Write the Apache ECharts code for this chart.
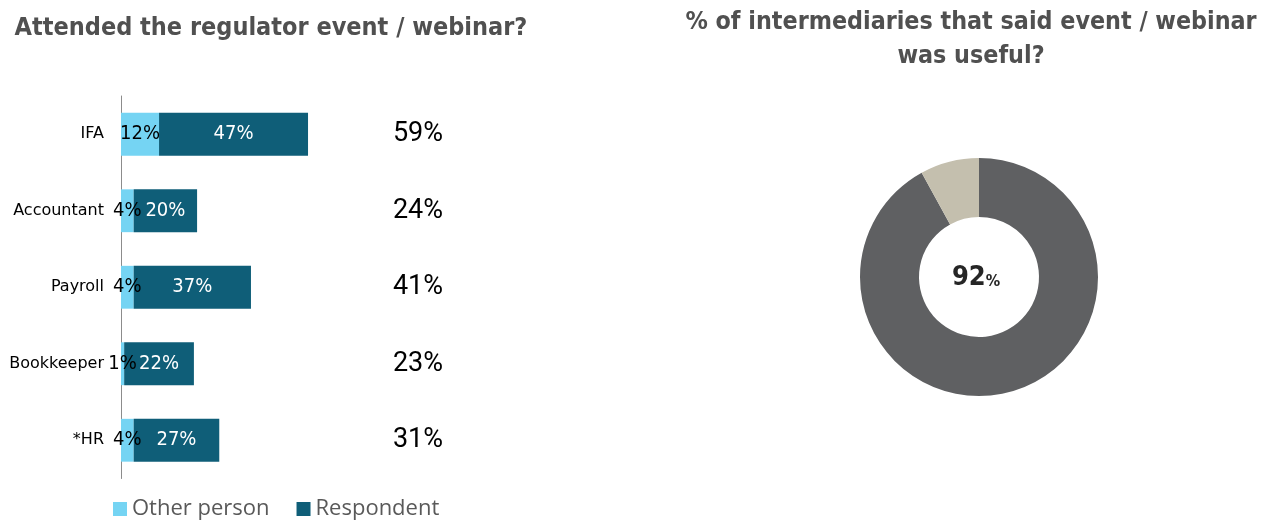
<!DOCTYPE html>
<html>
<head>
<meta charset="utf-8">
<script src="https://cdn.jsdelivr.net/npm/echarts@6/dist/echarts.min.js"></script>
<style>
  html, body { margin: 0; padding: 0; background: #ffffff; }
  #chart { width: 1269px; height: 522px; }
</style>
</head>
<body>
<div id="chart"></div>
<script>
// Attendance by intermediary type (% of respondents)
const categories = ['IFA', 'Accountant', 'Payroll', 'Bookkeeper', '*HR'];
const otherPerson = [12, 4, 4, 1, 4];
const respondent = [47, 20, 37, 22, 27];
const totals = categories.map((c, i) => otherPerson[i] + respondent[i]);

// Share of intermediaries finding the event useful
const usefulNames = ['Useful', 'Not useful'];
const usefulValues = [92, 8];

const FONT = '"DejaVu Sans Condensed", "DejaVu Sans", sans-serif';
const WIDE = '"DejaVu Sans", sans-serif';
const TOTAL_FONT = 'Roboto, "DejaVu Sans Condensed", sans-serif';
const chart = echarts.init(document.getElementById('chart'), null, { renderer: 'canvas' });

chart.setOption({
  animation: false,
  textStyle: { fontFamily: FONT },
  title: [
    {
      text: 'Attended the regulator event / webinar?',
      left: 266, top: 11, textAlign: 'center',
      textStyle: { fontFamily: FONT, fontWeight: 'bold', fontSize: 25, color: '#505050' }
    },
    {
      text: '% of intermediaries that said event / webinar\nwas useful?',
      left: 966, top: 1, textAlign: 'center',
      textStyle: { fontFamily: FONT, fontWeight: 'bold', fontSize: 24.8, color: '#505050', lineHeight: 34 }
    }
  ],
  legend: {
    left: 113, top: 498, padding: 0,
    icon: 'rect', itemWidth: 14, itemHeight: 14, itemGap: 27,
    textStyle: { fontFamily: '"Open Sans", sans-serif', fontSize: 22, color: '#595959' },
    data: ['Other person', 'Respondent']
  },
  grid: { left: 121, top: 96, width: 317, height: 382.5, containLabel: false },
  xAxis: { type: 'value', min: 0, max: 100, show: false },
  yAxis: [
    {
      type: 'category', data: categories, inverse: true,
      axisLine: { show: true, lineStyle: { color: '#8c8c8c', width: 1 } },
      axisTick: { show: false },
      axisLabel: { fontFamily: WIDE, fontSize: 16, color: '#000000', margin: 17 }
    },
    {
      type: 'category', data: categories, inverse: true, position: 'right',
      axisLine: { show: false }, axisTick: { show: false },
      axisLabel: {
        fontFamily: TOTAL_FONT, fontSize: 27, color: '#000000', align: 'right', margin: 5,
        formatter: (v, i) => totals[i] + '%'
      }
    }
  ],
  series: [
    {
      name: 'Other person', type: 'bar', stack: 'att', data: otherPerson,
      barCategoryGap: '44%',
      itemStyle: { color: '#75D4F3' },
      label: { show: true, position: 'inside', formatter: '{c}%', fontFamily: FONT, fontSize: 20, color: '#000000' },
      emphasis: { disabled: true }
    },
    {
      name: 'Respondent', type: 'bar', stack: 'att', data: respondent,
      barCategoryGap: '44%',
      itemStyle: { color: '#0F5E78' },
      label: { show: true, position: 'inside', formatter: '{c}%', fontFamily: FONT, fontSize: 20, color: '#ffffff' },
      emphasis: { disabled: true }
    },
    {
      name: 'Useful', type: 'pie',
      center: [979, 277], radius: [60, 119],
      startAngle: 90, clockwise: true,
      avoidLabelOverlap: false,
      labelLine: { show: false },
      emphasis: { disabled: true },
      label: { show: false },
      data: usefulNames.map((n, i) => ({
        name: n, value: usefulValues[i],
        itemStyle: { color: i === 0 ? '#5F6062' : '#C4BFAE' },
        label: i === 0 ? {
          show: true, position: 'center', offset: [-3, 1],
          formatter: p => '{n|' + p.value + '}{p|%}',
          rich: {
            n: { fontFamily: FONT, fontWeight: 'bold', fontSize: 27, color: '#262626' },
            p: { fontFamily: FONT, fontWeight: 'bold', fontSize: 16, color: '#262626', verticalAlign: 'bottom', padding: [0, 0, 2, 0] }
          }
        } : { show: false }
      }))
    }
  ]
});
</script>
</body>
</html>
